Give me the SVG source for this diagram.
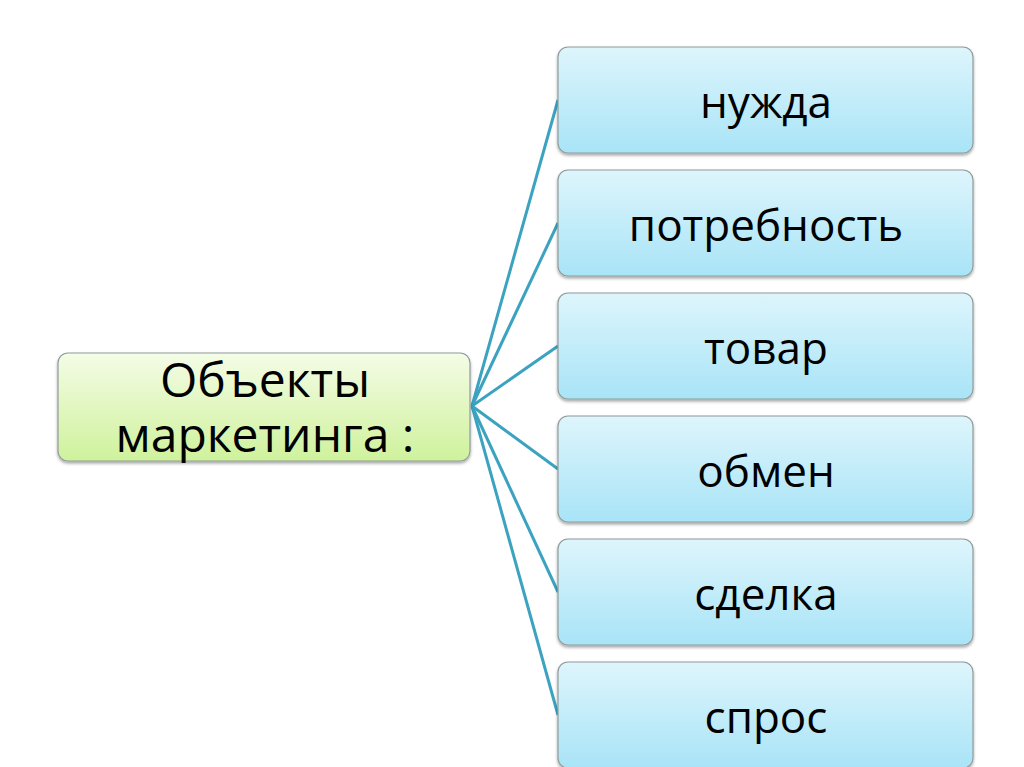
<svg xmlns="http://www.w3.org/2000/svg" width="1024" height="767" viewBox="0 0 1024 767">
<defs>
<linearGradient id="gb" x1="0" y1="0" x2="0" y2="1"><stop offset="0" stop-color="#def5fc"/><stop offset="1" stop-color="#a8e4f7"/></linearGradient>
<linearGradient id="gg" x1="0" y1="0" x2="0" y2="1"><stop offset="0" stop-color="#f4fce6"/><stop offset="1" stop-color="#cff29c"/></linearGradient>
<filter id="sh" x="-10%" y="-10%" width="120%" height="130%"><feDropShadow dx="0" dy="2" stdDeviation="1.5" flood-color="#000" flood-opacity="0.35"/></filter>
</defs>
<style>
.n{stroke:#8f9c9c;stroke-width:1.2;filter:url(#sh)}
.b{fill:url(#gb)}
.g{fill:url(#gg)}
text{font-family:"Open Sans","Noto Sans",sans-serif;fill:#000;text-anchor:middle}
.t{font-size:44px}
.l{font-size:48px}
.c line{stroke:#3ba3c0;stroke-width:3}
</style>
<rect width="1024" height="767" fill="#fff"/>
<g class="c">
<line x1="472" y1="406" x2="558" y2="100"/>
<line x1="472" y1="406" x2="558" y2="223"/>
<line x1="472" y1="406" x2="558" y2="346"/>
<line x1="472" y1="406" x2="558" y2="469"/>
<line x1="472" y1="406" x2="558" y2="592"/>
<line x1="472" y1="406" x2="558" y2="715"/>
</g>
<g id="left"><rect class="n g" x="58" y="353" width="412" height="108" rx="10"/><text class="l" x="265" y="397"><tspan x="265" y="397">Объекты</tspan><tspan x="265" y="452">маркетинга :</tspan></text></g>
<g id="n1"><rect class="n b" x="558" y="47" width="415" height="106" rx="10"/><text class="t" x="766" y="118">нужда</text></g>
<g id="n2"><rect class="n b" x="558" y="170" width="415" height="106" rx="10"/><text class="t" x="766" y="241">потребность</text></g>
<g id="n3"><rect class="n b" x="558" y="293" width="415" height="106" rx="10"/><text class="t" x="766" y="364">товар</text></g>
<g id="n4"><rect class="n b" x="558" y="416" width="415" height="106" rx="10"/><text class="t" x="766" y="487">обмен</text></g>
<g id="n5"><rect class="n b" x="558" y="539" width="415" height="106" rx="10"/><text class="t" x="766" y="610">сделка</text></g>
<g id="n6"><rect class="n b" x="558" y="662" width="415" height="106" rx="10"/><text class="t" x="766" y="733">спрос</text></g>
</svg>
